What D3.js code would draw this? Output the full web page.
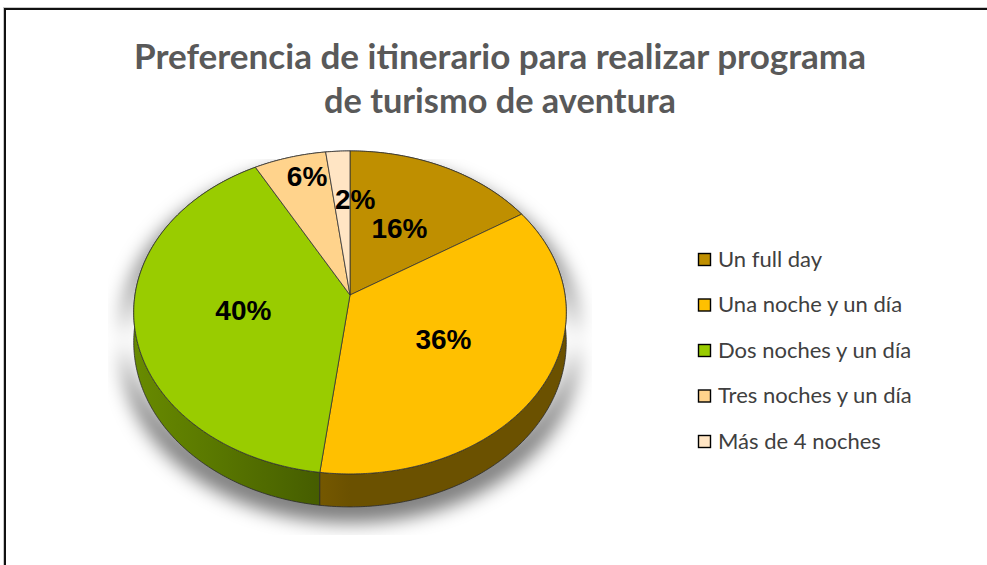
<!DOCTYPE html>
<html>
<head>
<meta charset="utf-8">
<script src="https://cdn.jsdelivr.net/npm/d3@7"></script>
<style>
  html, body { margin: 0; padding: 0; background: #fff; }
  svg { display: block; }
</style>
</head>
<body>
<div id="chart"></div>
<script>
const categories = ["Un full day", "Una noche y un día", "Dos noches y un día", "Tres noches y un día", "Más de 4 noches"];
const values = [16, 36, 40, 6, 2];
const colors = ["#BF8F00", "#FFC000", "#99CC00", "#FFD38C", "#FFE5C4"];
const titleLines = ["Preferencia de itinerario para realizar programa", "de turismo de aventura"];

const width = 987, height = 565;

const svg = d3.select("#chart").append("svg")
    .attr("width", width)
    .attr("height", height);

const defs = svg.append("defs");

// chart frame (runs off the right / bottom of the picture)
svg.append("rect")
    .attr("x", 3.5).attr("y", 7.5)
    .attr("width", 1100).attr("height", 700)
    .attr("fill", "none")
    .attr("stroke", "#c8c8c8")
    .attr("stroke-width", 1);
svg.append("rect")
    .attr("x", 5).attr("y", 9)
    .attr("width", 1100).attr("height", 700)
    .attr("fill", "#fff")
    .attr("stroke", "#111")
    .attr("stroke-width", 2);

// title
const titleWidths = [732, 352];
const title = svg.append("text")
    .attr("text-anchor", "middle")
    .attr("fill", "#595959")
    .style("font-family", "Lato, 'Open Sans', sans-serif")
    .style("font-weight", "700")
    .style("font-size", "35px");
title.selectAll("tspan")
    .data(titleLines)
    .join("tspan")
    .attr("x", 500)
    .attr("y", (d, i) => 69 + i * 44)
    .text(d => d);

// stretch each title line a little, Calibri is wider than Lato at this height
title.selectAll("tspan").each(function(d, i) {
    const w = this.getComputedTextLength();
    if (w > 0) {
        d3.select(this)
            .attr("textLength", titleWidths[i])
            .attr("lengthAdjust", "spacingAndGlyphs");
    }
});

// ------------
// 3D pie
// ------------
const cx = 350, cy = 295;
const rx = 215, ry = 159.6;
const persp = 0.108;   // perspective strength
const depth = 29.4;

const proj = (a, h = 0, rf = 1) => {
    const u = Math.sin(a) * rf, v = -Math.cos(a) * rf;
    const k = 1 / (1 - persp * v);
    return [cx + rx * u * k, cy + (ry * v + depth * h) * k];
};

const arcPoints = (a0, a1, h) => {
    const n = Math.max(2, Math.ceil((a1 - a0) / 0.01));
    return d3.range(n + 1).map(i => proj(a0 + (a1 - a0) * i / n, h));
};

const line = d3.line();

const topPath = d => line([[cx, cy], ...arcPoints(d.startAngle, d.endAngle, 0)]) + "Z";
const sidePath = d => line([
    ...arcPoints(d.startAngle, d.endAngle, 0),
    ...arcPoints(d.startAngle, d.endAngle, 1).reverse()
]) + "Z";

const pie = d3.pie().sort(null).value(d => d);
const slices = pie(values).map((d, i) => ({ ...d, i, color: colors[i], name: categories[i] }));

// shadow under the pie, clipped to a box like in Excel
const shadow = defs.append("filter")
    .attr("id", "shadow")
    .attr("filterUnits", "userSpaceOnUse")
    .attr("x", 120).attr("y", 150)
    .attr("width", 460).attr("height", 368);
shadow.append("feGaussianBlur").attr("stdDeviation", 9);

const whole = { startAngle: 0, endAngle: 2 * Math.PI };
svg.append("g")
    .attr("filter", "url(#shadow)")
    .attr("transform", `translate(${cx},${cy + 12}) scale(1.05,1.02) translate(${-cx},${-cy})`)
    .append("path")
    .attr("d", sidePath(whole))
    .attr("fill", "#000")
    .attr("fill-opacity", 0.5);

// side shading: lighter where the wall faces left
const shade = u => 0.42 + 0.26 * Math.max(0, -u);

slices.forEach(s => {
    const grad = defs.append("linearGradient")
        .attr("id", `side${s.i}`)
        .attr("gradientUnits", "userSpaceOnUse")
        .attr("x1", cx - rx).attr("x2", cx + rx)
        .attr("y1", 0).attr("y2", 0);
    const base = d3.rgb(s.color);
    d3.range(0, 1.0001, 0.05).forEach(t => {
        const f = shade(t * 2 - 1);
        grad.append("stop")
            .attr("offset", t)
            .attr("stop-color", d3.rgb(base.r * f, base.g * f, base.b * f).formatHex());
    });
});

const sideOrder = slices.slice().sort((a, b) =>
    -Math.cos((b.startAngle + b.endAngle) / 2) < -Math.cos((a.startAngle + a.endAngle) / 2) ? 1 : -1);

svg.append("g")
    .selectAll("path")
    .data(sideOrder)
    .join("path")
    .attr("d", sidePath)
    .attr("fill", d => `url(#side${d.i})`)
    .attr("stroke", "#2a2a2a")
    .attr("stroke-width", 0.8)
    .attr("stroke-linejoin", "round");

svg.append("g")
    .selectAll("path")
    .data(slices)
    .join("path")
    .attr("d", topPath)
    .attr("fill", d => d.color)
    .attr("stroke", "#333")
    .attr("stroke-width", 0.8)
    .attr("stroke-linejoin", "round");

// data labels
const pct = d3.format(".0%");
const labelNudge = { 3: [9, 0], 4: [13, -4] };
svg.append("g")
    .selectAll("text")
    .data(slices)
    .join("text")
    .attr("transform", d => {
        const a = (d.startAngle + d.endAngle) / 2;
        const small = d.value < 10;
        const [x, y] = proj(a, 0, small ? (d.value < 4 ? 0.62 : 0.85) : 0.5);
        const [nx, ny] = labelNudge[d.i] || [0, 0];
        return `translate(${x + nx},${y + ny})`;
    })
    .attr("text-anchor", "middle")
    .attr("dy", "0.36em")
    .attr("fill", "#000")
    .style("font-family", "'Liberation Sans', Arial, sans-serif")
    .style("font-weight", "700")
    .style("font-size", "28px")
    .text(d => pct(d.value / 100));

// legend
const legend = svg.append("g")
    .attr("transform", "translate(698,253)");
const rows = legend.selectAll("g")
    .data(slices)
    .join("g")
    .attr("transform", (d, i) => `translate(0,${i * 45.5})`);
rows.append("rect")
    .attr("x", 0.5).attr("y", 0.5)
    .attr("width", 12).attr("height", 12)
    .attr("fill", d => d.color)
    .attr("stroke", "#000")
    .attr("stroke-width", 1.4);
rows.append("text")
    .attr("x", 20)
    .attr("y", 13.5)
    .attr("fill", "#404040")
    .style("font-family", "Lato, 'Open Sans', sans-serif")
    .style("font-size", "22px")
    .text(d => d.name);
</script>
</body>
</html>
